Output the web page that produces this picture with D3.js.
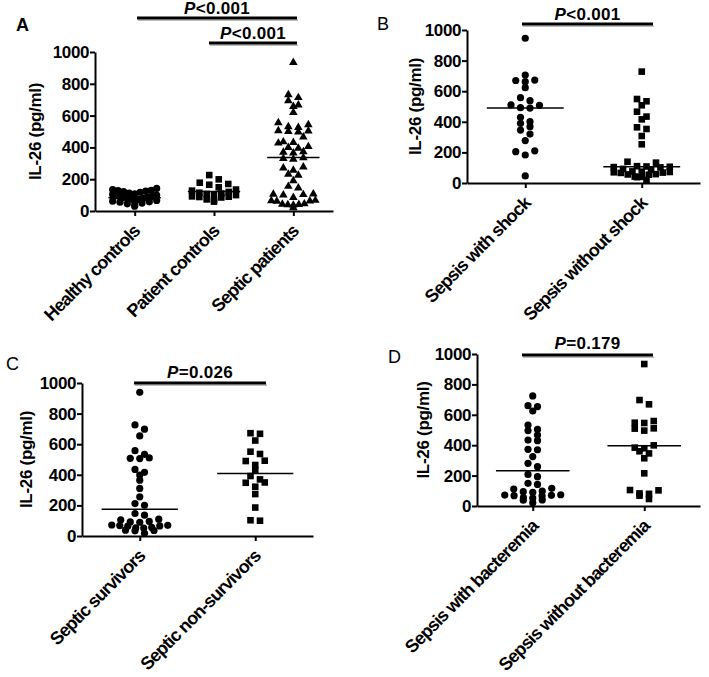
<!DOCTYPE html>
<html><head><meta charset="utf-8">
<script src="https://cdn.jsdelivr.net/npm/d3@7"></script>
<style>body{margin:0;background:#fff}svg{display:block}text{font-family:"Liberation Sans",Arial,sans-serif}</style>
</head><body><svg id="c" width="709" height="677"></svg>
<script>
// ---------- data ----------
const yTicks=[0,200,400,600,800,1000];
const yTitle="IL-26 (pg/ml)";

const catsA=["Healthy controls","Patient controls","Septic patients"];
const healthyControls=[142,135,130,128,125,122,118,112,108,104,100,98,95,92,90,88,86,84,82,80,78,76,74,72,70,66,62,58,55,50,45,38,30];
const patientControls=[226,199,178,170,165,149,135,128,120,115,110,107,105,100,92,90,88,85,73,70,59];
const septicPatients=[939,736,718,698,672,662,625,560,548,535,530,510,508,505,502,470,440,436,432,410,405,400,378,374,370,340,335,330,282,276,262,236,230,195,160,150,112,110,108,106,90,72,70,68,66,50,48,46,44,42,25];
const mediansA=[84,122,337];
const pA=["<0.001","<0.001"];

const catsB=["Sepsis with shock","Sepsis without shock"];
const withShock=[946,706,673,670,662,623,558,538,510,508,492,490,429,401,390,368,346,320,277,210,205,183,46];
const withoutShock=[728,549,534,508,466,434,416,364,353,307,253,139,133,110,108,106,104,102,92,88,76,74,72,70,68,66,58,56,54,42,40,38,20];
const mediansB=[490,107];
const pB=["<0.001"];

const catsC=["Septic survivors","Septic non-survivors"];
const survivors=[939,726,698,654,558,534,510,508,506,435,416,398,365,311,256,212,201,147,136,110,105,95,92,90,72,70,68,66,64,56,54,52,38,36,34,18];
const nonSurvivors=[672,668,624,551,536,492,490,464,431,392,370,350,348,322,274,186,103,100];
const mediansC=[175,409];
const pC=["=0.026"];

const catsD=["Sepsis with bacteremia","Sepsis without bacteremia"];
const withBacteremia=[724,660,654,625,533,504,496,467,434,430,373,370,325,281,259,208,193,149,142,116,112,98,94,90,74,72,70,68,66,55,52,40,38,22];
const withoutBacteremia=[934,697,669,559,548,546,511,509,496,399,384,380,360,346,314,215,105,103,83,80,68,46];
const mediansD=[232,397];
const pD=["=0.179"];

// ---------- layout ----------
const panels=[
 {letter:"A",bold:true,lx:16,ly:31,x0:95,x1:333,yTop:52,yBot:211,titleX:35,span:44,rowH:5.5,gaps:[9,9.5,10],
  cats:catsA,groups:[healthyControls,patientControls,septicPatients],shapes:["circle","square","triangle"],medians:mediansA,
  bars:[{p:pA[0],y:18,a:137,b:297,ty:14},{p:pA[1],y:43,a:209,b:297,ty:39}]},
 {letter:"B",bold:false,lx:377,ly:30,x0:467,x1:700,yTop:30,yBot:183,titleX:415,span:56,rowH:5,gaps:[9.5,9.5],
  cats:catsB,groups:[withShock,withoutShock],shapes:["circle","square"],medians:mediansB,
  bars:[{p:pB[0],y:24,a:522,b:653,ty:20}]},
 {letter:"C",bold:false,lx:6,ly:370,x0:82,x1:313,yTop:383,yBot:536,titleX:26,span:56,rowH:5,gaps:[9.5,9.5],
  cats:catsC,groups:[survivors,nonSurvivors],shapes:["circle","square"],medians:mediansC,
  bars:[{p:pC[0],y:383,a:134,b:266,ty:378}]},
 {letter:"D",bold:false,lx:388,ly:363,x0:477,x1:700,yTop:354,yBot:506,titleX:423,span:56,rowH:5,gaps:[9.5,9.5],
  cats:catsD,groups:[withBacteremia,withoutBacteremia],shapes:["circle","square"],medians:mediansD,
  bars:[{p:pD[0],y:355,a:522,b:653,ty:349}]}
];

const svg=d3.select("#c");
svg.append("rect").attr("width",709).attr("height",677).attr("fill","#fff");

function rowScatter(vals,y,cx,c,span,rowH){
  const pts=vals.map(v=>({v,y:y(v)})).sort((a,b)=>a.y-b.y);
  const rows=[];let cur=null;
  pts.forEach(p=>{
    if(!cur||p.y-cur.y0>rowH){cur={y0:p.y,items:[]};rows.push(cur);}
    cur.items.push(p);
  });
  rows.forEach(r=>{
    const n=r.items.length;
    const s=n>1?Math.min(c,span/(n-1)):0;
    const order=r.items.slice().sort((a,b)=>a.v-b.v);
    const arranged=[];order.forEach((p,i)=>{ if(i%2===0)arranged.push(p); else arranged.unshift(p); });
    arranged.forEach((p,j)=>{p.x=cx+(j-(n-1)/2)*s;});
  });
  return pts;
}
const symArea={circle:Math.PI*3.6*3.6,square:6.6*6.6,triangle:8.6*8.6*Math.sqrt(3)/4};
const symType={circle:d3.symbolCircle,square:d3.symbolSquare,triangle:d3.symbolTriangle};

panels.forEach(P=>{
  const g=svg.append("g");
  const x=d3.scalePoint().domain(P.cats).range([P.x0,P.x1]).padding(0.5);
  const y=d3.scaleLinear().domain([0,1000]).range([P.yBot,P.yTop]);

  g.append("text").attr("x",P.lx).attr("y",P.ly).text(P.letter)
   .attr("font-size",18).attr("font-weight",P.bold?"bold":"normal").attr("fill","#000");

  const ya=g.append("g").attr("transform",`translate(${P.x0},0)`)
    .call(d3.axisLeft(y).tickValues(yTicks).tickSize(5).tickSizeOuter(0).tickPadding(1).tickFormat(d3.format("d")));
  ya.select(".domain").attr("stroke-width",2);
  ya.selectAll(".tick line").attr("stroke-width",2);
  ya.selectAll(".tick text").attr("font-size",17).attr("font-weight","bold").attr("fill","#000")
    .attr("font-family",'"Liberation Sans",Arial,sans-serif').attr("letter-spacing","-0.4");

  const xa=g.append("g").attr("transform",`translate(0,${P.yBot})`)
    .call(d3.axisBottom(x).tickSize(5).tickSizeOuter(0).tickFormat(""));
  xa.select(".domain").attr("stroke-width",2);
  xa.selectAll(".tick line").attr("stroke-width",2);
  P.cats.forEach(c=>{
    g.append("text").attr("transform",`translate(${x(c)+3},${P.yBot+18}) rotate(-45)`)
     .attr("text-anchor","end").attr("dominant-baseline","middle")
     .attr("font-size",18).attr("font-weight","bold").attr("letter-spacing","-0.9").text(c);
  });

  g.append("text").attr("transform",`translate(${P.titleX},${(P.yTop+P.yBot)/2}) rotate(-90)`)
   .attr("text-anchor","middle").attr("dominant-baseline","central")
   .attr("font-size",17).attr("font-weight","bold").attr("letter-spacing","-0.3").text(yTitle);

  const step=x.step();
  P.groups.forEach((vals,i)=>{
    const cx=x(P.cats[i]);
    const pts=rowScatter(vals,y,cx,P.gaps[i],P.span,P.rowH);
    const sym=d3.symbol().type(symType[P.shapes[i]]).size(symArea[P.shapes[i]]);
    g.selectAll(null).data(pts).enter().append("path")
     .attr("d",sym).attr("transform",d=>`translate(${d.x},${d.y+(P.shapes[i]==="triangle"?0.8:0)})`).attr("fill","#000");
    const w=step*0.66;
    g.append("line").attr("x1",cx-w/2).attr("x2",cx+w/2).attr("y1",y(P.medians[i])).attr("y2",y(P.medians[i]))
     .attr("stroke","#000").attr("stroke-width",1.5);
  });

  P.bars.forEach(b=>{
    g.append("line").attr("x1",b.a+1).attr("x2",b.b+1).attr("y1",b.y+2.2).attr("y2",b.y+2.2)
     .attr("stroke","#bbb").attr("stroke-width",1.5);
    g.append("line").attr("x1",b.a).attr("x2",b.b).attr("y1",b.y).attr("y2",b.y)
     .attr("stroke","#000").attr("stroke-width",3);
    const t=g.append("text").attr("x",(b.a+b.b)/2).attr("y",b.ty).attr("text-anchor","middle")
     .attr("font-size",17).attr("font-weight","bold").attr("letter-spacing","0.3");
    t.append("tspan").attr("font-style","italic").text("P");
    t.append("tspan").text(b.p);
  });
});
</script></body></html>
